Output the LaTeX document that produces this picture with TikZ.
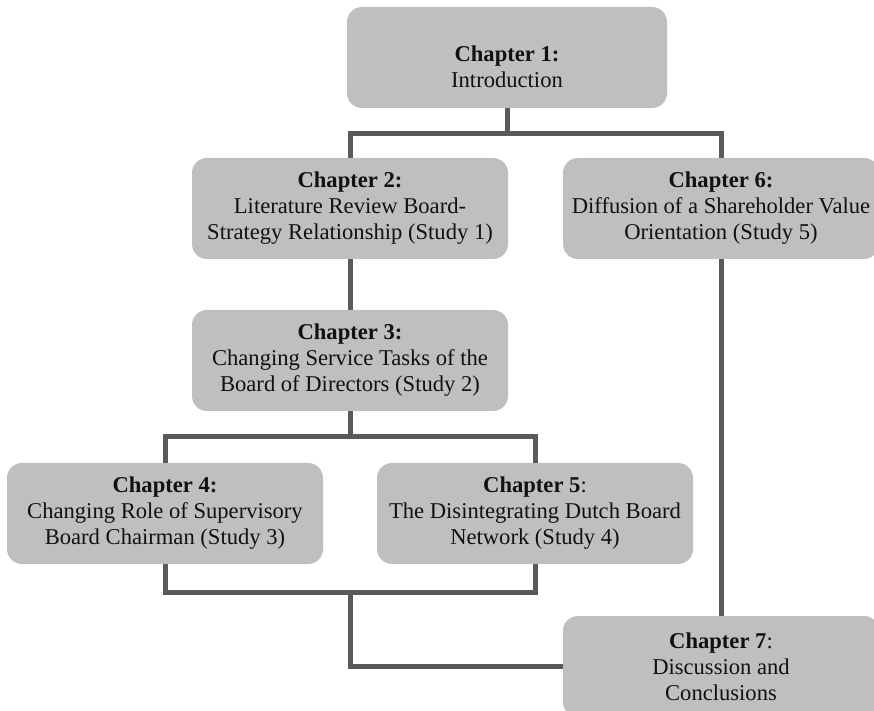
\documentclass[tikz,border=0pt]{standalone}
\usepackage{fontspec}
\setmainfont{Liberation Serif}
\usepackage{xcolor}
\definecolor{boxfill}{HTML}{BFBFBF}
\definecolor{linkgray}{HTML}{5A5A5A}
\definecolor{boxink}{HTML}{111111}

\begin{document}
\begin{tikzpicture}[x=0.5pt, y=-0.5pt,
                    chapbox/.style={fill=boxfill, rounded corners=7.5pt,
                      minimum width=158pt, minimum height=50.5pt,
                      inner xsep=0pt, inner ysep=2pt, align=center,
                      text=boxink, font=\fontsize{11.3}{13}\selectfont},
                    link/.style={linkgray, line width=2.5pt}]

  %% 畫布大小固定為參考圖的範圍, 右下兩個方框會被裁掉一部分
  \useasboundingbox (0,0) rectangle (874,711);
  \clip (0,0) rectangle (874,711);

  %% ---- 各章方框 ----
  \node[chapbox, minimum width=160pt] (c1) at (507,57.5)
    {\rule{0pt}{17pt}\textbf{Chapter 1:}\\Introduction};
  \node[chapbox] (c2) at (350,208.5)
    {\textbf{Chapter 2:}\\Literature Review Board-\\Strategy Relationship (Study 1)};
  \node[chapbox] (c6) at (721,208.5)
    {\textbf{Chapter 6:}\\\makebox[150pt][c]{Diffusion of a Shareholder Value}\\Orientation (Study 5)};
  \node[chapbox] (c3) at (350,360.5)
    {\textbf{Chapter 3:}\\Changing Service Tasks of the\\Board of Directors (Study 2)};
  \node[chapbox] (c4) at (165,513.5)
    {\textbf{Chapter 4:}\\Changing Role of Supervisory\\Board Chairman (Study 3)};
  \node[chapbox] (c5) at (535,513.5)
    {\textbf{Chapter 5}:\\The Disintegrating Dutch Board\\Network (Study 4)};
  \node[chapbox] (c7) at (721,666.5)
    {\textbf{Chapter 7}:\\Discussion and\\Conclusions};

  %% ---- 連接線 ----
  \coordinate (j1) at (507,134);
  \coordinate (j3) at (350,437);
  \coordinate (j4) at (350,592);
  \draw[link] (c1.south) -- (j1);
  \draw[link] (c2.north) |- (j1) -| (c6.north);
  \draw[link] (c2.south) -- (c3.north);
  \draw[link] (c3.south) -- (j3);
  \draw[link] (c4.north) |- (j3) -| (c5.north);
  \draw[link] (c4.south) |- (j4) -| (c5.south);
  \draw[link] (j4) |- (c7.west);
  \draw[link] (c6.south) -- (c7.north);

\end{tikzpicture}
\end{document}
